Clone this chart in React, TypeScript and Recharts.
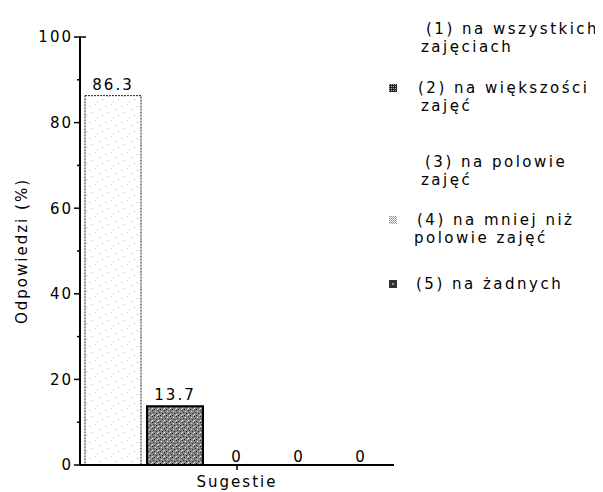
import { BarChart, Bar, XAxis, YAxis, LabelList } from "recharts";

const categories = ["Sugestie"];
const seriesKeys = ["s1", "s2", "s3", "s4", "s5"];
const seriesNames = [
  "(1) na wszystkich\nzajęciach",
  "(2) na większości\nzajęć",
  "(3) na polowie\nzajęć",
  "(4) na mniej niż\npolowie zajęć",
  "(5) na żadnych",
];
const seriesValues = [86.3, 13.7, 0, 0, 0];
const yTicks = [0, 10, 20, 30, 40, 50, 60, 70, 80, 90, 100];

const FONT = "'DejaVu Sans', sans-serif";

const data = categories.map((name) => {
  const row: Record<string, string | number> = { name };
  seriesKeys.forEach((k, i) => (row[k] = seriesValues[i]));
  return row;
});

// fill + stroke per series
const barStyles = [
  { fill: "url(#patDots)", stroke: "#222", strokeWidth: 1, dash: "2 1" },
  { fill: "url(#patDark)", stroke: "#000", strokeWidth: 2, dash: undefined },
  { fill: "#fff", stroke: "none", strokeWidth: 0, dash: undefined },
  { fill: "url(#patLight)", stroke: "none", strokeWidth: 0, dash: undefined },
  { fill: "#333", stroke: "none", strokeWidth: 0, dash: undefined },
];

// legend placement (relative to the chart wrapper)
const legendLayout = [
  { top: 12, x: 418, x2: 413, marker: false },
  { top: 71, x: 410, x2: 413, marker: true },
  { top: 145, x: 417, x2: 413, marker: false },
  { top: 203, x: 409, x2: 406, marker: true },
  { top: 267, x: 408, x2: 408, marker: true },
];

const markerFills = ["#fff", "dark", "#fff", "light", "#333"];

function YTick(props: any) {
  const { x, y, payload } = props;
  const v = payload.value as number;
  const major = v % 20 === 0;
  return (
    <g>
      <line x1={x - (major ? 6 : 3)} x2={v === 100 ? x + 6 : x} y1={y} y2={y} stroke="#000" strokeWidth={1.5} />
      {major && (
        <text x={x - 7} y={y} dy="0.36em" textAnchor="end" fontSize={15} fontFamily={FONT} letterSpacing={2} fill="#000">
          {v}
        </text>
      )}
    </g>
  );
}

function ValueLabel(props: any) {
  const { x, y, width, value } = props;
  return (
    <text
      x={x + width / 2}
      y={value > 0 ? y - 6 : y - 2}
      textAnchor="middle"
      fontSize={15}
      fontFamily={FONT}
      letterSpacing={2}
      fill="#000"
    >
      {value}
    </text>
  );
}

function Marker({ kind }: { kind: string }) {
  return (
    <svg width={8} height={8} style={{ display: "block" }}>
      <defs>
        <pattern id="mkDark" width="2" height="2" patternUnits="userSpaceOnUse">
          <rect width="2" height="2" fill="#222" />
          <rect width="1" height="1" fill="#bbb" />
        </pattern>
        <pattern id="mkLight" width="2" height="2" patternUnits="userSpaceOnUse">
          <rect width="2" height="2" fill="#fff" />
          <rect width="1" height="1" fill="#888" />
          <rect x="1" y="1" width="1" height="1" fill="#999" />
        </pattern>
      </defs>
      <rect
        width={8}
        height={8}
        fill={kind === "dark" ? "url(#mkDark)" : kind === "light" ? "url(#mkLight)" : kind}
      />
      {kind === "#333" && <rect x={3} y={3} width={2} height={2} fill="#999" />}
    </svg>
  );
}

export default function App() {
  return (
    <div style={{ position: "relative", width: 587, height: 484, fontFamily: FONT }}>
      <BarChart
        width={386}
        height={484}
        data={data}
        margin={{ top: 29, right: 0, bottom: 0, left: 0 }}
        barCategoryGap={5}
        barGap={6}
      >
        <defs>
          <pattern id="patDots" width="16" height="16" patternUnits="userSpaceOnUse">
            <rect width="16" height="16" fill="#fff" />
            <rect x="1" y="2" width="1" height="1" fill="#b0b0b0" />
            <rect x="7" y="0" width="1" height="1" fill="#c0c0c0" />
            <rect x="12" y="5" width="1" height="1" fill="#b0b0b0" />
            <rect x="4" y="8" width="1" height="1" fill="#c0c0c0" />
            <rect x="14" y="11" width="1" height="1" fill="#b0b0b0" />
            <rect x="9" y="13" width="1" height="1" fill="#c0c0c0" />
          </pattern>
          <pattern id="patDark" width="6" height="6" patternUnits="userSpaceOnUse">
            <rect width="6" height="6" fill="#858585" />
            <rect x="0" y="0" width="1" height="1" fill="#222" />
            <rect x="3" y="1" width="1" height="1" fill="#e0e0e0" />
            <rect x="1" y="2" width="1" height="1" fill="#333" />
            <rect x="4" y="3" width="1" height="1" fill="#222" />
            <rect x="0" y="4" width="1" height="1" fill="#eee" />
            <rect x="2" y="5" width="1" height="1" fill="#222" />
            <rect x="5" y="5" width="1" height="1" fill="#d0d0d0" />
          </pattern>
          <pattern id="patLight" width="2" height="2" patternUnits="userSpaceOnUse">
            <rect width="2" height="2" fill="#fff" />
            <rect width="1" height="1" fill="#999" />
          </pattern>
        </defs>
        <XAxis
          dataKey="name"
          height={27}
          tickSize={5}
          tickMargin={6}
          axisLine={{ stroke: "#000", strokeWidth: 2 }}
          tickLine={{ stroke: "#000", strokeWidth: 1.5 }}
          tick={{ fontSize: 15, fontFamily: FONT, fill: "#000", letterSpacing: 2 }}
        />
        <YAxis
          width={72}
          domain={[0, 100]}
          ticks={yTicks}
          interval={0}
          tickSize={0}
          tickMargin={0}
          tickLine={false}
          axisLine={{ stroke: "#000", strokeWidth: 2 }}
          tick={<YTick />}
          label={{
            content: (p: any) => {
              const vb = p.viewBox || {};
              const cy = (vb.y ?? 29) + (vb.height ?? 428) / 2;
              return (
                <text
                  x={14}
                  y={cy}
                  transform={`rotate(-90 14 ${cy})`}
                  textAnchor="middle"
                  dominantBaseline="central"
                  fontSize={15}
                  fontFamily={FONT}
                  letterSpacing={2}
                  fill="#000"
                >
                  Odpowiedzi (%)
                </text>
              );
            },
          }}
        />
        {seriesKeys.map((k, i) => (
          <Bar
            key={k}
            dataKey={k}
            name={seriesNames[i]}
            fill={barStyles[i].fill}
            stroke={barStyles[i].stroke}
            strokeWidth={barStyles[i].strokeWidth}
            strokeDasharray={barStyles[i].dash}
            minPointSize={seriesValues[i] === 0 ? 1 : 0}
            isAnimationActive={false}
          >
            <LabelList dataKey={k} content={<ValueLabel />} />
          </Bar>
        ))}
      </BarChart>
      {seriesNames.map((name, i) => {
        const pos = legendLayout[i];
        const [first, second] = name.split("\n");
        return (
          <div
            key={name}
            style={{
              position: "absolute",
              top: pos.top,
              left: 0,
              fontSize: 15,
              letterSpacing: 2.5,
              lineHeight: "18px",
              color: "#000",
              whiteSpace: "nowrap",
            }}
          >
            {pos.marker && (
              <div style={{ position: "absolute", left: 381, top: 5 }}>
                <Marker kind={markerFills[i]} />
              </div>
            )}
            <div style={{ position: "absolute", left: pos.x, top: 0 }}>{first}</div>
            {second && <div style={{ position: "absolute", left: pos.x2, top: 18 }}>{second}</div>}
          </div>
        );
      })}
    </div>
  );
}
